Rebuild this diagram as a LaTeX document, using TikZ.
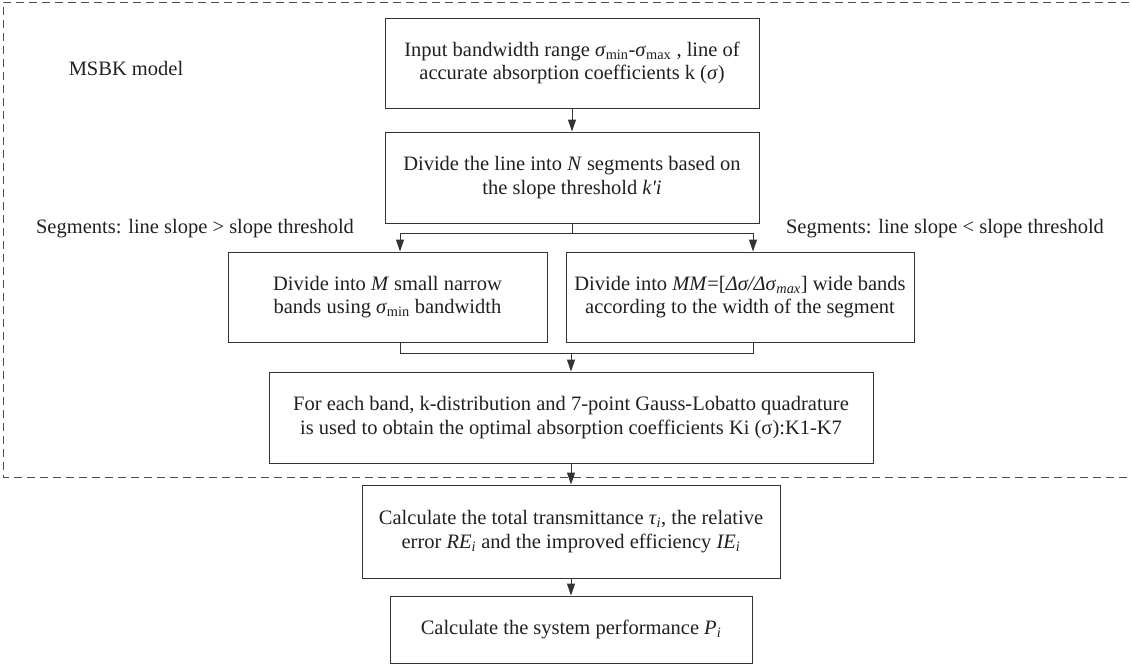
\documentclass[tikz,border=0pt]{standalone}
\usepackage{fontspec}
\setmainfont{Liberation Serif}
\usetikzlibrary{arrows.meta}
\definecolor{linecol}{HTML}{333333}
\definecolor{txtcol}{HTML}{231F20}
\definecolor{dashcol}{HTML}{4D4D4D}
\tikzset{
  box/.style={draw=linecol, line width=1pt, align=center, inner sep=0pt, text=txtcol,
    font=\fontsize{20.5}{23.5}\selectfont},
  lbl/.style={inner sep=0pt, text=txtcol, font=\fontsize{20.5}{23.5}\selectfont},
  conn/.style={draw=linecol, line width=1pt},
  arr/.style={conn, -{Triangle[length=12pt,width=8pt]}},
  frame/.style={draw=dashcol, line width=1pt, dash pattern=on 8pt off 5pt}
}
\begin{document}
\begin{tikzpicture}[x=1pt,y=-1pt]
\useasboundingbox (0,0) rectangle (1131,665);
\draw[frame] (1140,477) -- (3,477) -- (3,2) -- (1140,2);
\node[lbl] (msbk) at (126,68) {MSBK model};
\node[box, minimum width=374pt, minimum height=90pt] (b1) at (572,63)
  {Input bandwidth range \textit{σ}\textsubscript{min}-\textit{σ}\textsubscript{max} , line of\\ accurate absorption coefficients k (\textit{σ})};
\node[box, minimum width=374pt, minimum height=91pt] (b2) at (572,177.5)
  {Divide the line into \textit{N} segments based on\\ the slope threshold \textit{k\textquotesingle i}};
\node[box, minimum width=319pt, minimum height=90pt] (b3) at (387.5,297)
  {Divide into \textit{M} small narrow\\ bands using \textit{σ}\textsubscript{min} bandwidth};
\node[box, minimum width=348pt, minimum height=90pt] (b4) at (740,297)
  {Divide into \textit{MM}=[\textit{Δσ/Δσ}\textsubscript{\textit{max}}] wide bands\\ according to the width of the segment};
\node[box, minimum width=604pt, minimum height=91pt] (b5) at (571,417.5)
  {For each band, k-distribution and 7-point Gauss-Lobatto quadrature\\ is used to obtain the optimal absorption coefficients Ki (σ):K1-K7};
\node[box, minimum width=418pt, minimum height=93pt] (b6) at (571,531.5)
  {Calculate the total transmittance \textit{τ}\textsubscript{\textit{i}}, the relative\\ error \textit{RE}\textsubscript{\textit{i}} and the improved efficiency \textit{IE}\textsubscript{\textit{i}}};
\node[box, minimum width=362pt, minimum height=67pt] (b7) at (571,629.5)
  {Calculate the system performance \textit{P}\textsubscript{\textit{i}}};
\node[lbl] (lgt) at (195,229) {Segments: line slope > slope threshold};
\node[lbl] (llt) at (945,229) {Segments: line slope < slope threshold};
\coordinate (bm) at (572,233);
\coordinate (bl) at (400,233);
\coordinate (br) at (753,233);
\coordinate (jl) at (400,353);
\coordinate (jr) at (753,353);
\coordinate (jm) at (571,353);
\draw[arr] (b1.south) -- (b2.north);
\draw[conn] (b2.south) -- (bm);
\draw[conn] (bl) -- (br);
\draw[arr] (bl) -- (bl |- b3.north);
\draw[arr] (br) -- (br |- b4.north);
\draw[conn] (b3.south -| jl) -- (jl) -- (jr) -- (b4.south -| jr);
\draw[arr] (jm) -- (b5.north);
\draw[arr] (b5.south) -- (b6.north);
\draw[arr] (b6.south) -- (b7.north);
\end{tikzpicture}
\end{document}
